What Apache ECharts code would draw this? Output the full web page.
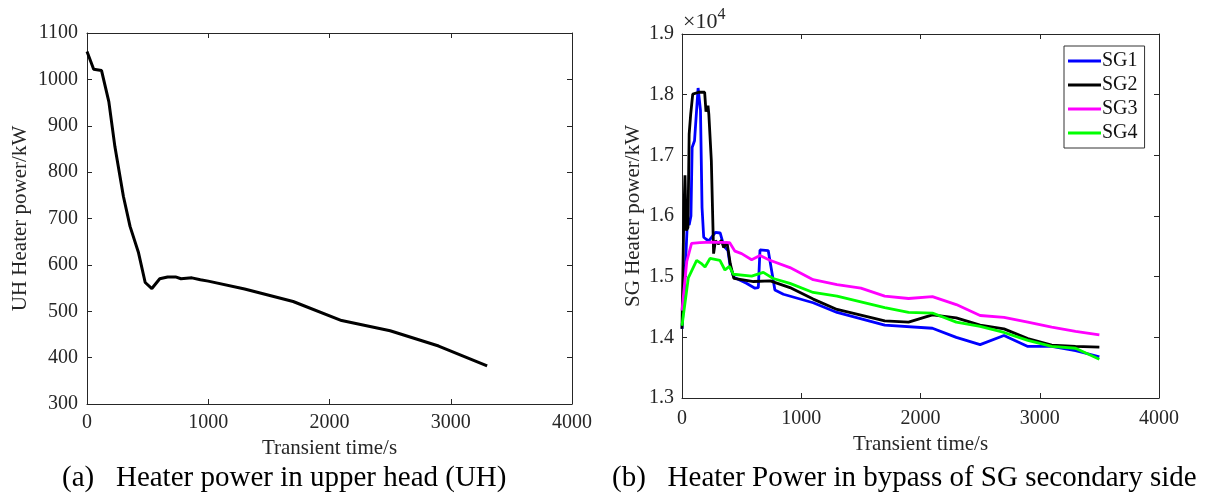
<!DOCTYPE html>
<html>
<head>
<meta charset="utf-8">
<script src="https://cdn.jsdelivr.net/npm/echarts@6/dist/echarts.min.js"></script>
<style>
html,body{margin:0;padding:0;background:#fff;}
#c{width:1212px;height:497px;}
</style>
</head>
<body>
<div id="c"></div>
<script>
// ---- Data (a): UH heater power ----
const uhTime  = [0, 55, 120, 180, 230, 300, 355, 425, 480, 535, 600, 665, 730, 775, 865, 935, 1000, 1300, 1700, 2100, 2500, 2900, 3300];
const uhPower = [1060, 1022, 1019, 952, 855, 748, 683, 626, 562, 549, 570, 574, 574, 570, 572, 568, 565, 548, 521, 480, 458, 425, 382];

// ---- Data (b): SG heater power (x10^4 kW) ----
const sg1Time  = [0, 20, 45, 60, 75, 85, 105, 135, 155, 168, 182, 200, 225, 280, 320, 350, 385, 405, 435, 540, 612, 640, 654, 723, 779, 850, 1100, 1300, 1700, 2100, 2300, 2500, 2700, 2900, 3100, 3300, 3500];
const sg1Power = [1.414, 1.48, 1.59, 1.585, 1.60, 1.713, 1.724, 1.811, 1.774, 1.614, 1.565, 1.562, 1.559, 1.573, 1.572, 1.551, 1.543, 1.516, 1.499, 1.489, 1.481, 1.482, 1.544, 1.543, 1.478, 1.471, 1.457, 1.441, 1.420, 1.415, 1.400, 1.388, 1.403, 1.385, 1.385, 1.378, 1.368];

const sg2Time  = [0, 15, 25, 35, 50, 60, 73, 90, 140, 190, 201, 212, 218, 225, 246, 265, 280, 293, 307, 330, 350, 377, 405, 435, 600, 740, 905, 1100, 1300, 1700, 1900, 2100, 2300, 2500, 2700, 2900, 3100, 3300, 3500];
const sg2Power = [1.414, 1.60, 1.667, 1.576, 1.581, 1.735, 1.768, 1.801, 1.804, 1.804, 1.772, 1.775, 1.782, 1.768, 1.691, 1.538, 1.559, 1.562, 1.554, 1.560, 1.548, 1.557, 1.521, 1.497, 1.492, 1.493, 1.482, 1.463, 1.446, 1.427, 1.425, 1.437, 1.432, 1.420, 1.414, 1.398, 1.387, 1.385, 1.384];

const sg3Time  = [0, 40, 80, 150, 250, 400, 444, 500, 584, 654, 737, 905, 1100, 1300, 1500, 1700, 1900, 2100, 2300, 2500, 2700, 2900, 3100, 3300, 3500];
const sg3Power = [1.444, 1.525, 1.555, 1.556, 1.557, 1.556, 1.542, 1.538, 1.528, 1.535, 1.527, 1.515, 1.495, 1.487, 1.481, 1.468, 1.464, 1.467, 1.454, 1.436, 1.433, 1.425, 1.417, 1.410, 1.404];

const sg4Time  = [0, 53, 123, 160, 193, 235, 318, 360, 397, 430, 584, 682, 765, 905, 1100, 1300, 1700, 1900, 2100, 2300, 2500, 2700, 2900, 3100, 3300, 3500];
const sg4Power = [1.419, 1.498, 1.527, 1.522, 1.516, 1.530, 1.527, 1.511, 1.517, 1.504, 1.501, 1.507, 1.497, 1.489, 1.474, 1.468, 1.449, 1.441, 1.440, 1.425, 1.418, 1.408, 1.395, 1.385, 1.382, 1.364];

const sgNames  = ['SG1', 'SG2', 'SG3', 'SG4'];
const sgColors = ['#0000ff', '#000000', '#ff00ff', '#00ff00'];

// ---- Tick labels / axes ----
const xTicks = {min: 0, max: 4000, interval: 1000};
const uhTicks = {min: 300, max: 1100, interval: 100};
const sgTicks = {min: 1.3, max: 1.9, interval: 0.1};
const xName = 'Transient time/s';
const uhName = 'UH Heater power/kW';
const sgName = 'SG Heater power/kW';
const captionA = '(a)   Heater power in upper head (UH)';
const captionB = '(b)   Heater Power in bypass of SG secondary side';

const FONT = '"Liberation Serif", "Times New Roman", serif';
const AX = '#262626';

function zip(a, b) { return a.map((t, i) => [t, b[i]]); }

function mainX(grid, margin, gap) {
  return {
    type: 'value', gridIndex: grid, position: 'bottom', ...xTicks,
    name: xName, nameLocation: 'middle', nameGap: gap,
    nameTextStyle: {fontFamily: FONT, fontSize: 21, color: AX},
    axisLine: {show: true, onZero: false, lineStyle: {color: AX, width: 1}},
    axisTick: {show: true, inside: true, length: 5, lineStyle: {color: AX}},
    axisLabel: {fontFamily: FONT, fontSize: 20, color: AX, margin: margin, formatter: v => String(v)},
    splitLine: {show: false}
  };
}
function mirrorX(grid) {
  return {
    type: 'value', gridIndex: grid, position: 'top', ...xTicks,
    axisLine: {show: true, onZero: false, lineStyle: {color: AX, width: 1}},
    axisTick: {show: true, inside: true, length: 5, lineStyle: {color: AX}},
    axisLabel: {show: false}, splitLine: {show: false}
  };
}
function mainY(grid, ticks, name, gap, margin, fmt) {
  return {
    type: 'value', gridIndex: grid, position: 'left', ...ticks,
    name: name, nameLocation: 'middle', nameGap: gap, nameRotate: 90,
    nameTextStyle: {fontFamily: FONT, fontSize: 21, color: AX},
    axisLine: {show: true, onZero: false, lineStyle: {color: AX, width: 1}},
    axisTick: {show: true, inside: true, length: 5, lineStyle: {color: AX}},
    axisLabel: {fontFamily: FONT, fontSize: 20, color: AX, margin: margin, formatter: fmt},
    splitLine: {show: false}
  };
}
function mirrorY(grid, ticks) {
  return {
    type: 'value', gridIndex: grid, position: 'right', ...ticks,
    axisLine: {show: true, onZero: false, lineStyle: {color: AX, width: 1}},
    axisTick: {show: true, inside: true, length: 5, lineStyle: {color: AX}},
    axisLabel: {show: false}, splitLine: {show: false}
  };
}

const sgTimes = [sg1Time, sg2Time, sg3Time, sg4Time];
const sgPowers = [sg1Power, sg2Power, sg3Power, sg4Power];

const chart = echarts.init(document.getElementById('c'), null, {renderer: 'canvas'});
chart.setOption({
  animation: false,
  backgroundColor: '#ffffff',
  grid: [
    {left: 87, top: 33, width: 485, height: 371},
    {left: 682, top: 34, width: 477, height: 364}
  ],
  xAxis: [mainX(0, 9, 29), mirrorX(0), mainX(1, 11, 31), mirrorX(1)],
  yAxis: [
    mainY(0, uhTicks, uhName, 56, 9, v => String(v)),
    mirrorY(0, uhTicks),
    mainY(1, sgTicks, sgName, 38, 8, v => v.toFixed(1)),
    mirrorY(1, sgTicks)
  ],
  legend: {
    show: true,
    data: sgNames.map(n => ({name: n, icon: 'rect'})),
    orient: 'vertical',
    left: 1064, top: 46,
    borderColor: '#333', borderWidth: 1,
    padding: [5, 7, 5, 4], itemGap: 4, itemWidth: 33, itemHeight: 3,
    textStyle: {fontFamily: FONT, fontSize: 20, color: '#111', lineHeight: 20, height: 20, padding: [0, 0, 0, -4]},
    backgroundColor: '#fff'
  },
  graphic: [
    {type: 'text', left: 62, top: 464, style: {text: captionA, font: '29px ' + FONT, fill: '#000'}},
    {type: 'text', left: 612, top: 464, style: {text: captionB, font: '29px ' + FONT, fill: '#000'}},
    {type: 'text', left: 683, top: 7, style: {
      text: '{a|×10}{b|4}',
      rich: {
        a: {fontFamily: FONT, fontSize: 22, fill: AX, color: AX, verticalAlign: 'bottom'},
        b: {fontFamily: FONT, fontSize: 16, fill: AX, color: AX, verticalAlign: 'top', padding: [0, 0, 10, 0]}
      }
    }}
  ],
  series: [
    {
      type: 'line', name: 'UH', xAxisIndex: 0, yAxisIndex: 0,
      data: zip(uhTime, uhPower), symbol: 'none',
      lineStyle: {color: '#000', width: 3}, itemStyle: {color: '#000'}
    }
  ].concat(sgNames.map((n, i) => ({
    type: 'line', name: n, xAxisIndex: 2, yAxisIndex: 2,
    data: zip(sgTimes[i], sgPowers[i]), symbol: 'none',
    lineStyle: {color: sgColors[i], width: 2.8}, itemStyle: {color: sgColors[i]}
  })))
});
</script>
</body>
</html>
